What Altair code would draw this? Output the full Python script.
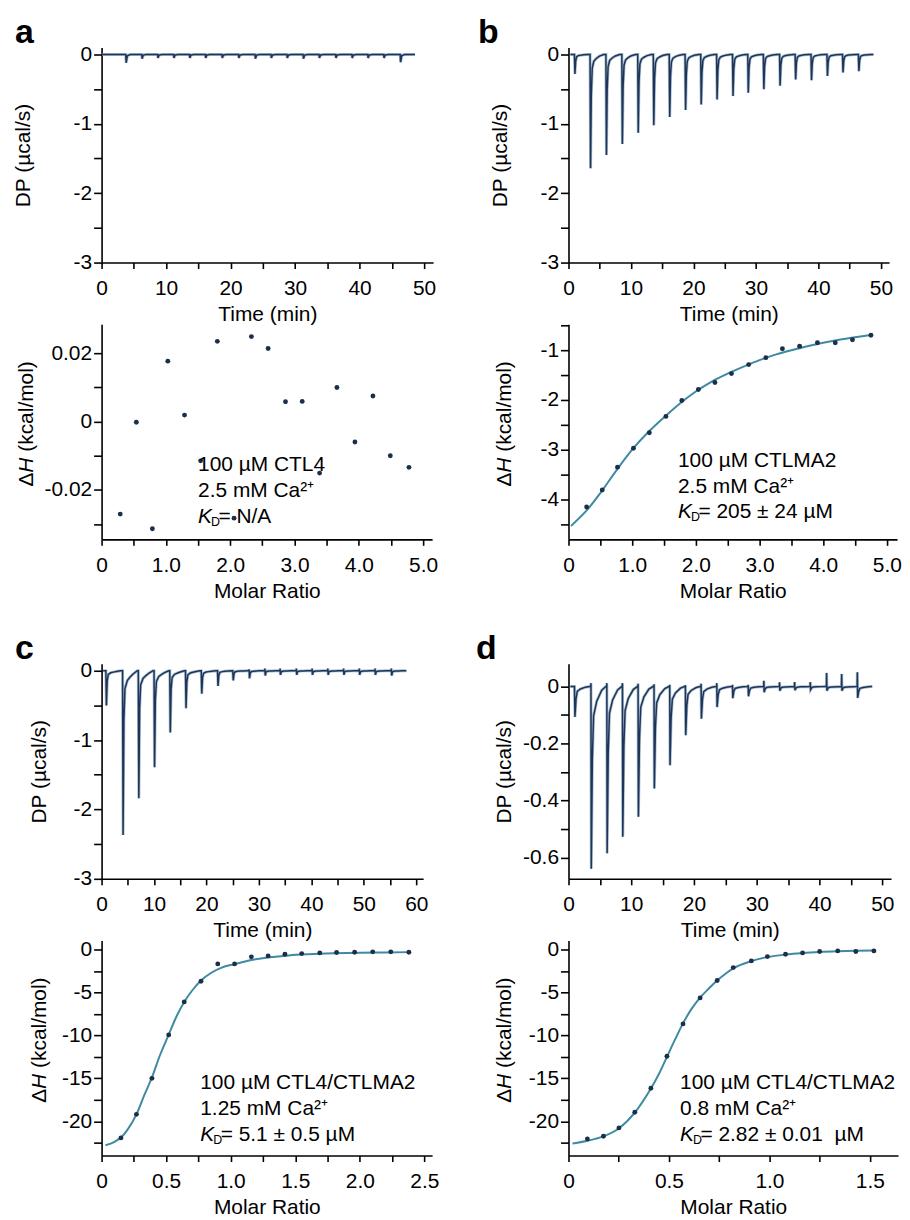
import altair as alt
import pandas as pd

FONT = "Liberation Sans"
FS = 21
TRACE_DARK = "#1f3557"
TRACE_LIGHT = "#8ea8c3"
POINT = "#1c2e4c"
FIT = "#3d8aa1"

# ---------------- thermogram data: injection times (min), peak heights (µcal/s) ----------------
a_run = [0.1, 48.6]
a_t = [3.75, 6.22, 8.68, 11.15, 13.62, 16.08, 18.65, 21.22, 23.79, 26.26, 28.73, 31.24, 33.71, 36.28, 38.8, 41.26, 43.73, 46.3]
a_dp = [-0.12, -0.06, -0.05, -0.05, -0.05, -0.05, -0.05, -0.05, -0.06, -0.05, -0.05, -0.06, -0.05, -0.05, -0.05, -0.05, -0.05, -0.11]
a_up = [0, 0, 0, 0, 0, 0, 0, 0, 0, 0, 0, 0, 0, 0, 0, 0, 0, 0]
a_prof_t = [0, 0.06, 0.25, 0.7]
a_prof_f = [0, 1, 0.15, 0]

b_run = [0.3, 48.8]
b_t = [0.95, 3.45, 5.99, 8.54, 11.08, 13.57, 16.12, 18.66, 21.16, 23.7, 26.25, 28.69, 31.18, 33.78, 36.27, 38.81, 41.36, 43.85, 46.39]
b_dp = [-0.28, -1.64, -1.45, -1.29, -1.13, -1.02, -0.9, -0.8, -0.72, -0.65, -0.6, -0.55, -0.5, -0.45, -0.36, -0.37, -0.31, -0.26, -0.24]
b_up = [0, 0, 0, 0, 0, 0, 0, 0, 0, 0, 0, 0, 0, 0, 0, 0, 0, 0, 0]
b_prof_t = [0, 0.08, 0.2, 0.35, 0.6, 1.0, 1.5, 2.2]
b_prof_f = [0, 1, 0.35, 0.12, 0.06, 0.035, 0.015, 0]

c_run = [0.3, 58.1]
c_t = [0.82, 4.0, 7.0, 10.0, 13.0, 16.0, 19.0, 22.1, 25.0, 28.1, 31.1, 34.0, 37.1, 40.1, 43.1, 46.1, 49.1, 52.1, 55.2]
c_dp = [-0.5, -2.37, -1.84, -1.39, -0.89, -0.54, -0.33, -0.22, -0.14, -0.11, -0.07, -0.06, -0.06, -0.06, -0.06, -0.06, -0.06, -0.06, -0.07]
c_up = [0, 0, 0, 0, 0, 0, 0, 0, 0, 0.02, 0.03, 0.03, 0.03, 0.03, 0.03, 0.03, 0.03, 0.03, 0.03]
c_prof_t = [0, 0.1, 0.25, 0.45, 0.9, 1.4, 2.0, 2.8]
c_prof_f = [0, 1, 0.3, 0.11, 0.06, 0.04, 0.02, 0]

d_run = [0.3, 48.3]
d_t = [0.95, 3.55, 6.08, 8.57, 11.06, 13.6, 16.1, 18.6, 21.1, 23.6, 26.1, 28.6, 31.1, 33.6, 36.0, 38.5, 41.1, 43.5, 46.0]
d_dp = [-0.107, -0.64, -0.585, -0.527, -0.457, -0.358, -0.276, -0.171, -0.113, -0.072, -0.041, -0.034, -0.02, -0.015, -0.013, -0.011, -0.015, -0.015, -0.04]
d_up = [0, 0.012, 0.012, 0.012, 0.01, 0.008, 0.006, 0.005, 0.01, 0.012, 0.006, 0.006, 0.02, 0.015, 0.016, 0.016, 0.048, 0.044, 0.05]
d_prof_t = [0, 0.08, 0.25, 0.45, 0.95, 1.75, 2.4]
d_prof_f = [0, 1, 0.4, 0.16, 0.08, 0.02, 0]

# ---------------- binding isotherms: molar ratio vs ΔH (kcal/mol) ----------------
a_x = [0.29, 0.54, 0.79, 1.03, 1.29, 1.54, 1.80, 2.06, 2.33, 2.59, 2.86, 3.12, 3.39, 3.66, 3.94, 4.22, 4.49, 4.78]
a_y = [-0.0271, -0.0002, -0.0314, 0.0177, 0.0019, -0.0115, 0.0235, -0.0283, 0.0249, 0.0214, 0.0058, 0.0059, -0.0151, 0.0100, -0.0060, 0.0075, -0.0100, -0.0134]

b_x = [0.285, 0.53, 0.77, 1.02, 1.27, 1.53, 1.78, 2.04, 2.30, 2.56, 2.83, 3.10, 3.36, 3.63, 3.91, 4.19, 4.46, 4.75]
b_y = [-4.15, -3.81, -3.35, -2.97, -2.66, -2.33, -2.01, -1.79, -1.65, -1.47, -1.29, -1.15, -0.97, -0.92, -0.85, -0.85, -0.79, -0.70]
b_fit_x = [0.04, 0.3, 0.5, 0.75, 1.0, 1.25, 1.5, 1.75, 2.0, 2.25, 2.5, 2.75, 3.0, 3.25, 3.5, 3.75, 4.0, 4.25, 4.5, 4.78]
b_fit_y = [-4.53, -4.2, -3.87, -3.42, -3.0, -2.65, -2.35, -2.07, -1.83, -1.63, -1.47, -1.33, -1.2, -1.09, -1.0, -0.92, -0.85, -0.79, -0.74, -0.69]

c_x = [0.15, 0.27, 0.39, 0.52, 0.64, 0.77, 0.90, 1.03, 1.16, 1.29, 1.42, 1.55, 1.69, 1.82, 1.96, 2.10, 2.24, 2.38]
c_y = [-21.94, -19.2, -15.0, -9.94, -6.1, -3.69, -1.67, -1.67, -0.85, -0.74, -0.54, -0.47, -0.39, -0.35, -0.31, -0.27, -0.27, -0.31]
c_fit_x = [0.03, 0.1, 0.15, 0.2, 0.27, 0.33, 0.39, 0.45, 0.52, 0.58, 0.64, 0.7, 0.77, 0.85, 0.93, 1.03, 1.15, 1.3, 1.45, 1.6, 1.8, 2.0, 2.2, 2.38]
c_fit_y = [-22.8, -22.4, -21.9, -21.0, -19.2, -17.0, -14.9, -12.4, -9.9, -7.8, -6.1, -4.8, -3.6, -2.7, -2.1, -1.7, -1.25, -0.9, -0.68, -0.55, -0.44, -0.37, -0.33, -0.3]

d_x = [0.094, 0.174, 0.251, 0.33, 0.41, 0.49, 0.57, 0.655, 0.74, 0.82, 0.91, 0.99, 1.08, 1.165, 1.25, 1.34, 1.43, 1.52]
d_y = [-22.06, -21.75, -20.78, -18.95, -16.16, -12.43, -8.66, -5.63, -3.61, -2.10, -1.32, -0.82, -0.54, -0.39, -0.23, -0.16, -0.23, -0.16]
d_fit_x = [0.02, 0.1, 0.17, 0.25, 0.33, 0.41, 0.45, 0.49, 0.53, 0.57, 0.61, 0.655, 0.7, 0.74, 0.78, 0.82, 0.91, 0.99, 1.08, 1.165, 1.25, 1.34, 1.43, 1.52]
d_fit_y = [-22.6, -22.25, -21.8, -20.85, -19.0, -16.2, -14.5, -12.5, -10.5, -8.6, -7.0, -5.6, -4.5, -3.6, -2.85, -2.2, -1.35, -0.88, -0.58, -0.4, -0.28, -0.2, -0.15, -0.12]

# ---------------- annotation texts ----------------
a_lines = ["100 µM CTL4", "2.5 mM Ca²⁺", "= N/A"]
b_lines = ["100 µM CTLMA2", "2.5 mM Ca²⁺", "= 205 ± 24 µM"]
c_lines = ["100 µM CTL4/CTLMA2", "1.25 mM Ca²⁺", "= 5.1 ± 0.5 µM"]
d_lines = ["100 µM CTL4/CTLMA2", "0.8 mM Ca²⁺", "= 2.82 ± 0.01\u00a0 µM"]
a_ann = [1.50, -0.0146]
b_ann = [1.72, -3.34]
c_ann = [0.764, -16.25]
d_ann = [0.555, -16.25]

thermo_x50 = [0, 5, 10, 15, 20, 25, 30, 35, 40, 45, 50]
thermo_x60 = [0, 5, 10, 15, 20, 25, 30, 35, 40, 45, 50, 55, 60]
thermo_y3 = [-3, -2.5, -2, -1.5, -1, -0.5, 0]
thermo_y06 = [-0.6, -0.5, -0.4, -0.3, -0.2, -0.1, 0]
mr_x5 = [0, 0.5, 1, 1.5, 2, 2.5, 3, 3.5, 4, 4.5, 5]
mr_x25 = [0, 0.25, 0.5, 0.75, 1, 1.25, 1.5, 1.75, 2, 2.25, 2.5]
mr_x15 = [0, 0.25, 0.5, 0.75, 1, 1.25, 1.5]
dh_ya = [-0.03, -0.02, -0.01, 0, 0.01, 0.02]
dh_yb = [-4.5, -4, -3.5, -3, -2.5, -2, -1.5, -1, -0.5]
dh_ycd = [-22.5, -20, -17.5, -15, -12.5, -10, -7.5, -5, -2.5, 0]


def build_trace(run, times, dps, ups, prof_t, prof_f):
    ts, vs = [run[0]], [0.0]
    for t, d, u in zip(times, dps, ups):
        ts.append(t)
        vs.append(0.0)
        if u:
            ts.append(t + 0.03)
            vs.append(u)
        for o, f in zip(prof_t[1:], prof_f[1:]):
            ts.append(t + o)
            vs.append(d * f)
    ts.append(run[1])
    vs.append(0.0)
    return pd.DataFrame({"t": ts, "dp": vs})


def lab(major, fmt, zero="0"):
    return (f"abs(datum.value/{major} - round(datum.value/{major})) < 1e-6 ? "
            f"(abs(datum.value) < 1e-9 ? '{zero}' : (datum.value < 0 ? '-' : '') + format(abs(datum.value), '{fmt}')) : ''")


COMMON_AXIS = dict(domainColor="black", domainWidth=1.6, tickColor="black", tickWidth=1.6,
                   labelColor="black", labelFont=FONT, labelFontSize=FS, titleFont=FONT,
                   titleFontSize=FS, titleFontWeight="normal", titleColor="black", grid=False,
                   labelFlush=False, labelOverlap=False)


def xaxis(values, major, fmt, title):
    return alt.Axis(values=values, labelExpr=lab(major, fmt), title=title, tickSize=6,
                    labelPadding=9, minExtent=35, maxExtent=35, titlePadding=6, **COMMON_AXIS)


def yaxis(values, major, fmt, title, tpad, zero="0"):
    return alt.Axis(values=values, labelExpr=lab(major, fmt, zero), title=title, tickSize=8,
                    labelPadding=2, minExtent=30, maxExtent=30, titlePadding=tpad, **COMMON_AXIS)


def thermo(df, xdom, width, xvals, ydom, yvals, ymajor, yfmt, ytp, letter, lx):
    X = alt.X("t:Q", scale=alt.Scale(domain=xdom, nice=False, zero=False),
              axis=xaxis(xvals, 10, "d", "Time (min)"))
    Y = alt.Y("dp:Q", scale=alt.Scale(domain=ydom, nice=False, zero=False),
              axis=yaxis(yvals, ymajor, yfmt, "DP (µcal/s)", ytp, zero="0\u00a0"))
    base = alt.Chart(df)
    glow = base.mark_line(color=TRACE_LIGHT, strokeWidth=3.0, opacity=0.75).encode(x=X, y=Y)
    core = base.mark_line(color=TRACE_DARK, strokeWidth=1.5).encode(x=X, y=Y)
    let = alt.Chart(pd.DataFrame({"s": [letter]})).mark_text(
        font=FONT, fontSize=34, fontWeight="bold", align="left", baseline="alphabetic",
        color="black").encode(x=alt.value(lx), y=alt.value(-5), text="s:N")
    return alt.layer(glow, core, let).properties(width=width, height=216)


def iso(xs, ys, fit_x, fit_y, xdom, width, xvals, xmajor, ydom, yvals, ymajor, yfmt,
        ann, lines, title_off):
    X = alt.X("x:Q", scale=alt.Scale(domain=xdom, nice=False, zero=False),
              axis=xaxis(xvals, xmajor, ".1f", "Molar Ratio"))
    Y = alt.Y("y:Q", scale=alt.Scale(domain=ydom, nice=False, zero=False),
              axis=yaxis(yvals, ymajor, yfmt, None, 0))
    layers = []
    if fit_x:
        layers.append(alt.Chart(pd.DataFrame({"x": fit_x, "y": fit_y})).mark_line(
            color=FIT, strokeWidth=2, interpolate="monotone").encode(x=X, y=Y))
    layers.append(alt.Chart(pd.DataFrame({"x": xs, "y": ys})).mark_circle(
        size=24, color=POINT, opacity=1).encode(x=X, y=Y))
    ann_df = pd.DataFrame({"x": [ann[0]], "y": [ann[1]], "l1": [lines[0]], "l2": [lines[1]],
                           "k": ["K"], "d": ["D"], "r": [lines[2]]})
    t = alt.Chart(ann_df)
    cm = dict(font=FONT, color="black", align="left", baseline="alphabetic")
    layers += [
        t.mark_text(fontSize=FS, **cm).encode(x=X, y=Y, text="l1:N"),
        t.mark_text(fontSize=FS, dy=26, **cm).encode(x=X, y=Y, text="l2:N"),
        t.mark_text(fontSize=FS, dy=52, fontStyle="italic", **cm).encode(x=X, y=Y, text="k:N"),
        t.mark_text(fontSize=12.5, dx=13, dy=55, **cm).encode(x=X, y=Y, text="d:N"),
        t.mark_text(fontSize=FS, dx=20.5, dy=52, **cm).encode(x=X, y=Y, text="r:N"),
    ]
    ttl = alt.Chart(pd.DataFrame({"a": ["Δ"], "b": ["H"], "c": ["(kcal/mol)"]}))
    tc = dict(font=FONT, fontSize=FS, angle=270, align="left", baseline="bottom", color="black")
    px = alt.value(-title_off)
    py = alt.value(163)
    layers += [
        ttl.mark_text(**tc).encode(x=px, y=py, text="a:N"),
        ttl.mark_text(dx=14.0, fontStyle="italic", **tc).encode(x=px, y=py, text="b:N"),
        ttl.mark_text(dx=35.0, **tc).encode(x=px, y=py, text="c:N"),
    ]
    return alt.layer(*layers).properties(width=width, height=216)


def spacer():
    return alt.Chart(pd.DataFrame({"v": [0]})).mark_point(opacity=0).encode(
        x=alt.X("v:Q", axis=None), y=alt.Y("v:Q", axis=None)).properties(width=1, height=1)


a_top = thermo(build_trace(a_run, a_t, a_dp, a_up, a_prof_t, a_prof_f), [0, 51.4], 333,
               thermo_x50, [-3, 0.1], thermo_y3, 1, "d", 38, "a", -87)
b_top = thermo(build_trace(b_run, b_t, b_dp, b_up, b_prof_t, b_prof_f), [0, 51.3], 322,
               thermo_x50, [-3, 0.1], thermo_y3, 1, "d", 28, "b", -91)
c_top = thermo(build_trace(c_run, c_t, c_dp, c_up, c_prof_t, c_prof_f), [0, 61.3], 323,
               thermo_x60, [-3, 0.1], thermo_y3, 1, "d", 22, "c", -87)
d_top = thermo(build_trace(d_run, d_t, d_dp, d_up, d_prof_t, d_prof_f), [0, 51.4], 324,
               thermo_x50, [-0.675, 0.08], thermo_y06, 0.2, ".1f", 24, "d", -93)

a_bot = iso(a_x, a_y, None, None, [0, 5.14], 332, mr_x5, 1, [-0.0345, 0.0285], dh_ya, 0.02, ".2f",
            a_ann, a_lines, 65)
b_bot = iso(b_x, b_y, b_fit_x, b_fit_y, [0, 5.16], 330, mr_x5, 1, [-4.8, -0.48], dh_yb, 1, "d",
            b_ann, b_lines, 54)
c_bot = iso(c_x, c_y, c_fit_x, c_fit_y, [0, 2.56], 332, mr_x25, 0.5, [-24, 1.05], dh_ycd, 5, "d",
            c_ann, c_lines, 52)
d_bot = iso(d_x, d_y, d_fit_x, d_fit_y, [0, 1.64], 331, mr_x15, 0.5, [-24, 1.05], dh_ycd, 5, "d",
            d_ann, d_lines, 54)

chart = alt.concat(
    a_top, b_top, a_bot, b_bot, spacer(), spacer(), c_top, d_top, c_bot, d_bot,
    columns=2, spacing={"row": 62, "column": 136}, bounds="flush"
).properties(
    padding={"left": 5, "top": 5, "right": 0, "bottom": 0}
).configure(font=FONT).configure_view(strokeWidth=0)

chart.save("out.html", embed_options={"renderer": "svg", "actions": False})
